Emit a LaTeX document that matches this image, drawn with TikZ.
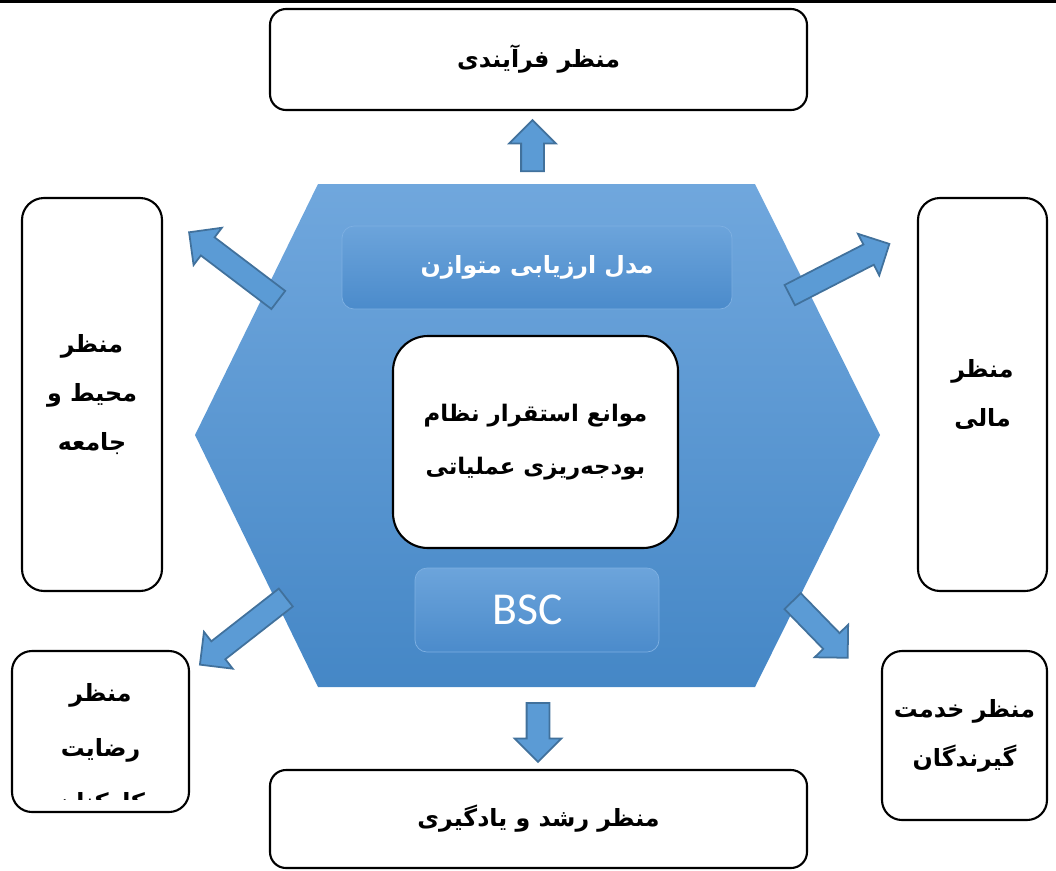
\documentclass[tikz,border=0pt]{standalone}
\usepackage{fontspec}
\setsansfont{Carlito}
\newfontfamily\arabicfont[Script=Arabic]{DejaVu Sans}
\TeXXeTstate=1
\usetikzlibrary{shapes.arrows}

\definecolor{hexTop}{HTML}{70A7DD}
\definecolor{hexBottom}{HTML}{4587C6}
\definecolor{panelTop}{HTML}{6CA4DB}
\definecolor{panelBottom}{HTML}{4B8BCB}
\definecolor{panelLine}{HTML}{7EB0E2}
\definecolor{arrowFill}{HTML}{5B9BD5}
\definecolor{arrowLine}{HTML}{41719C}

\def\pxu{0.02cm}
\newcommand{\rtltext}[1]{\beginR #1\endR}

\tikzset{
  persbox/.style={draw=black, line width=1.2pt, fill=white, rounded corners=16*\pxu,
    align=center, font=\arabicfont\bfseries\fontsize{13.5}{28}\selectfont, inner sep=0pt},
  panel/.style={draw=panelLine, line width=0.4pt, rounded corners=12*\pxu,
    top color=panelTop, bottom color=panelBottom, text=white, inner sep=0pt},
  perarrow/.style={single arrow, draw=arrowLine, fill=arrowFill, line width=1pt,
    inner xsep=0pt, inner ysep=10.5*\pxu, single arrow head extend=12*\pxu,
    minimum width=45*\pxu, anchor=tail, minimum height=#1*\pxu}
}

\begin{document}
\begin{tikzpicture}[x=0.02cm, y=-0.02cm]
    % frame
    \useasboundingbox (0,0) rectangle (1056,870);
    \fill (0,0) rectangle (1056,2.5);
    % hexagon
    \shade [top color=hexTop, bottom color=hexBottom]
        (318,184) -- (755,184) -- (880,435) -- (755,687) -- (318,687) -- (195,435) -- cycle;
    % panels on the hexagon
    \node [panel, minimum width=390*\pxu, minimum height=83*\pxu,
        font=\arabicfont\bfseries\fontsize{13.5}{18}\selectfont] (model) at (537,267.5) {\rtltext{مدل ارزیابی متوازن}};
    \node [panel, minimum width=244*\pxu, minimum height=84*\pxu,
        font=\sffamily\fontsize{26}{30}\selectfont] (bsc) at (537,610) {BSC\hspace*{0.38cm}};
    % center box
    \node [persbox, rounded corners=35*\pxu, minimum width=285*\pxu, minimum height=212*\pxu,
        font=\arabicfont\bfseries\fontsize{13}{30}\selectfont] (barrier) at (535.5,442)
        {\rtltext{موانع استقرار نظام}\\\rtltext{بودجه‌ریزی عملیاتی}};
    % perspective boxes
    \node [persbox, minimum width=537*\pxu, minimum height=101*\pxu] (process) at (538.5,59.5)
        {\rtltext{منظر فرآیندی}};
    \node [persbox, minimum width=537*\pxu, minimum height=98*\pxu] (growth) at (538.5,819)
        {\rtltext{منظر رشد و یادگیری}};
    \node [persbox, rounded corners=22*\pxu, minimum width=140*\pxu, minimum height=393*\pxu] (society) at (92,394.5)
        {\rtltext{منظر}\\\rtltext{محیط و}\\\rtltext{جامعه}};
    \node [persbox, rounded corners=22*\pxu, minimum width=129*\pxu, minimum height=393*\pxu] (finance) at (982.5,394.5)
        {\rtltext{منظر}\\\rtltext{مالی}};
    \node [persbox, rounded corners=20*\pxu, minimum width=165*\pxu, minimum height=169*\pxu] (customer) at (964.5,735.5)
        {\rtltext{منظر خدمت}\\\rtltext{گیرندگان}};
    \node [persbox, rounded corners=20*\pxu, minimum width=177*\pxu, minimum height=161*\pxu] (staff) at (100.5,731.5) {};
    \begin{scope}
        \clip (14,653) rectangle (187,799);
        \node [persbox, draw=none, fill=none, font=\arabicfont\bfseries\fontsize{13.5}{31}\selectfont] (stafftext) at (100.5,750)
            {\rtltext{منظر}\\\rtltext{رضایت}\\\rtltext{کارکنان}};
    \end{scope}
    % arrows out of the hexagon
    \node [perarrow=51, rotate=90] (toprocess) at (532.5,172) {};
    \node [perarrow=59, rotate=-90] (togrowth) at (538,702) {};
    \node [perarrow=112, rotate=142.8] (tosociety) at (279,300.5) {};
    \node [perarrow=112, rotate=27.2] (tofinance) at (789,295.5) {};
    \node [perarrow=109, rotate=218] (tostaff) at (286.5,597) {};
    \node [perarrow=79, rotate=-45.8] (tocustomer) at (792,600.5) {};
\end{tikzpicture}
\end{document}
